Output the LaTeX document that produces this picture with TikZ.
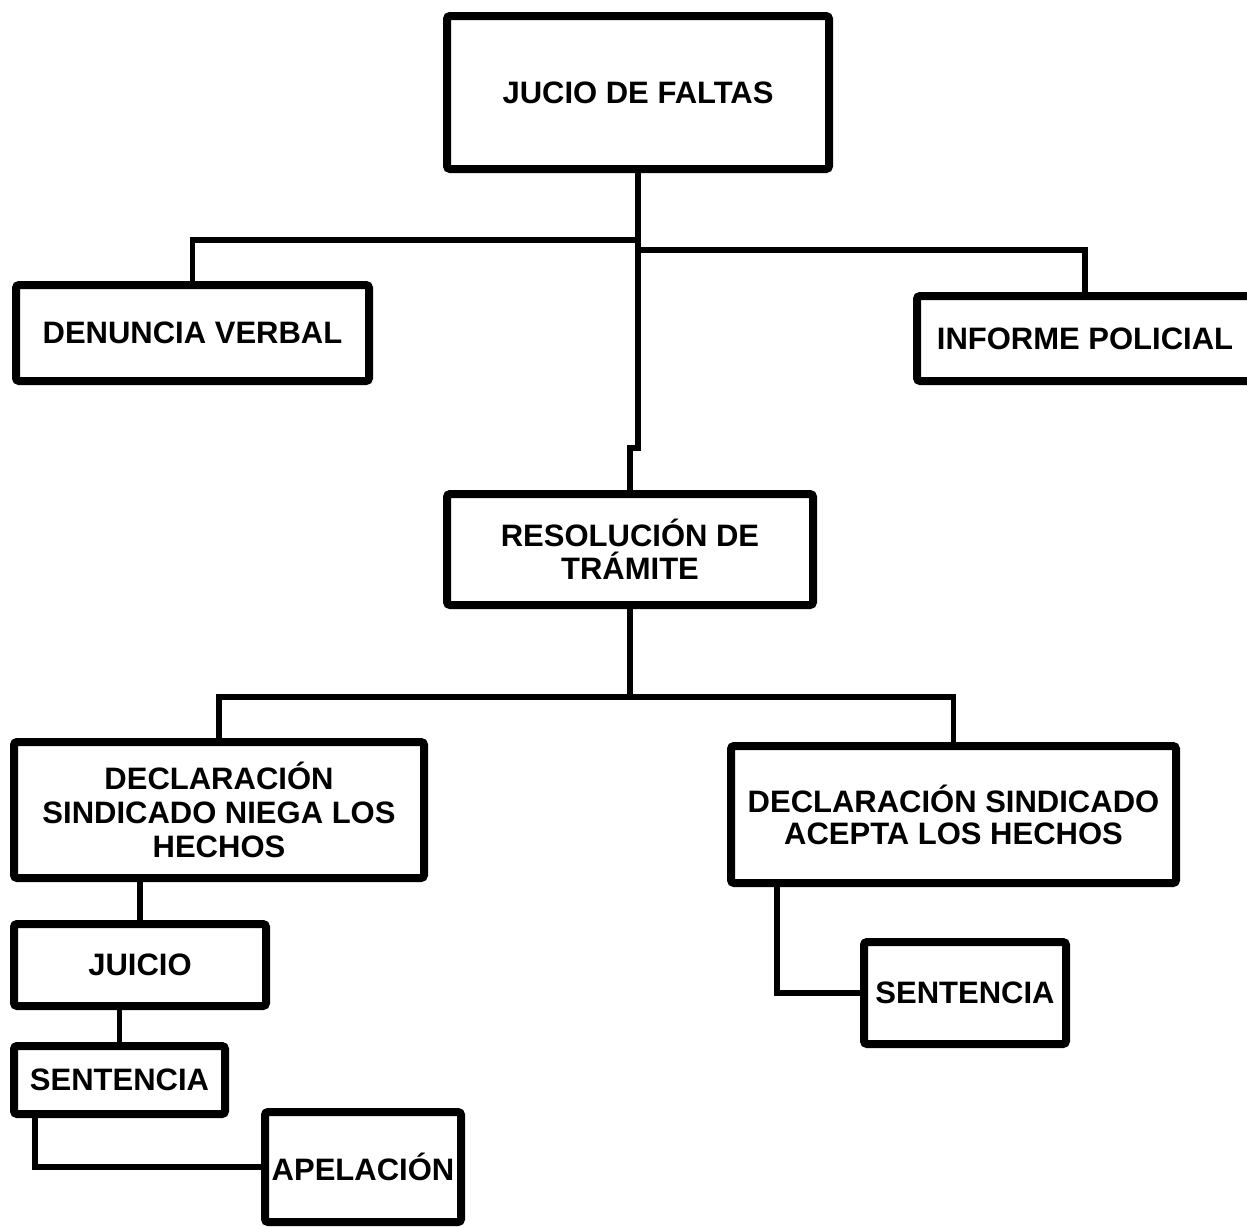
\documentclass[tikz,border=0pt]{standalone}
\usepackage{fontspec}
\setmainfont{Liberation Sans}
\begin{document}
\begin{tikzpicture}[x=1pt,y=-1pt,
  box/.style={draw=black,line width=8pt,rounded corners=3pt,inner sep=0pt,
    align=center,font=\fontsize{31}{33}\selectfont\bfseries},
  conn/.style={draw=black,line width=5.5pt}]
\useasboundingbox[fill=white] (0,0) rectangle (1247,1226);
% boxes
\node[box,minimum width=382pt,minimum height=153pt] (jucio) at (638,92.5) {JUCIO DE FALTAS};
\node[box,minimum width=353pt,minimum height=96pt] (denuncia) at (192.5,333) {DENUNCIA VERBAL};
\node[box,minimum width=336pt,minimum height=85pt] (informe) at (1085,338.5) {INFORME POLICIAL};
\node[box,minimum width=366pt,minimum height=111pt] (resol) at (630,549.5) {RESOLUCIÓN DE\\TRÁMITE};
\node[box,minimum width=410pt,minimum height=136pt,font=\fontsize{31}{34}\selectfont\bfseries] (niega) at (219,810) {DECLARACIÓN\\SINDICADO NIEGA LOS\\HECHOS};
\node[box,minimum width=445pt,minimum height=137pt,font=\fontsize{31}{32}\selectfont\bfseries] (acepta) at (953.5,814.5) {DECLARACIÓN SINDICADO\\ACEPTA LOS HECHOS};
\node[box,minimum width=252pt,minimum height=82pt] (juicio) at (140,965) {JUICIO};
\node[box,minimum width=211pt,minimum height=68pt] (sent1) at (119.5,1080) {SENTENCIA};
\node[box,minimum width=196pt,minimum height=110pt] (apel) at (363,1167) {APELACIÓN};
\node[box,minimum width=202pt,minimum height=102pt] (sent2) at (965,993) {SENTENCIA};
% junction coordinates
\coordinate (jl) at (638,240);
\coordinate (jr) at (638,250);
\coordinate (jog) at (630,448);
\coordinate (jd) at (630,697);
\coordinate (s1x) at (35,0);
\coordinate (a2x) at (777,0);
% connectors
\draw[conn] (jucio.south) |- (jog) -| (resol.north);
\draw[conn] (jl) -| (denuncia.north);
\draw[conn] (jr) -| (informe.north);
\draw[conn] (resol.south) -- (jd);
\draw[conn] (jd) -| (niega.north);
\draw[conn] (jd) -| (acepta.north);
\draw[conn] (niega.south -| juicio.north) -- (juicio.north);
\draw[conn] (juicio.south -| sent1.north) -- (sent1.north);
\draw[conn] (sent1.south -| s1x) |- (apel.west);
\draw[conn] (acepta.south -| a2x) |- (sent2.west);
\end{tikzpicture}
\end{document}
